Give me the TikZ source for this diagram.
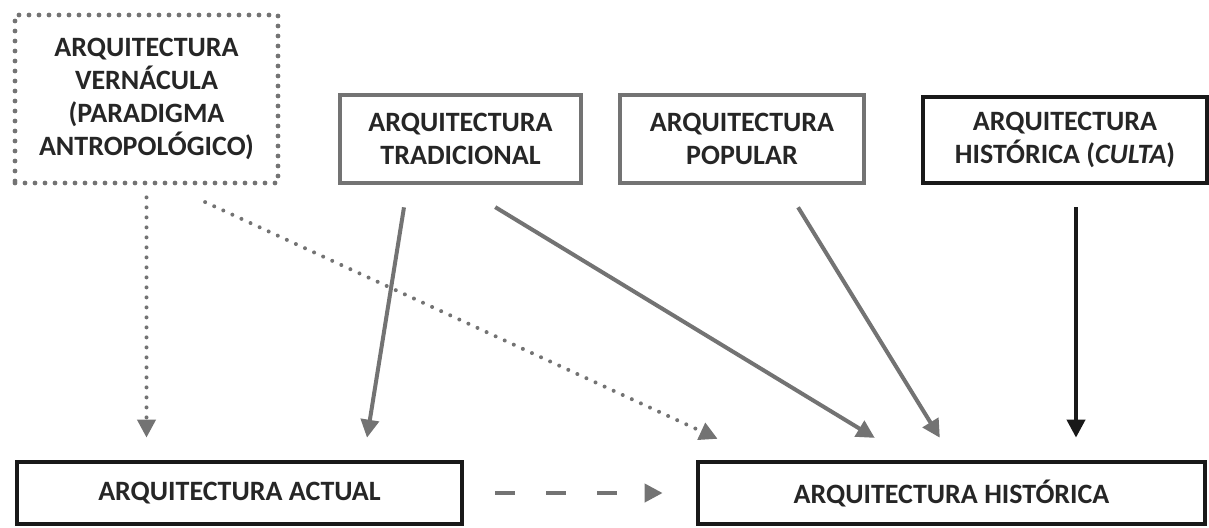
\documentclass[tikz,border=0pt]{standalone}
\usepackage{fontspec}
\setmainfont{Carlito}
\usetikzlibrary{arrows.meta}
\begin{document}
\begin{tikzpicture}[x=0.5pt,y=-0.5pt,
        box/.style={draw,rectangle,line width=2.4pt,align=center,text=black!85,
            font=\fontsize{14}{16.5}\selectfont\bfseries,inner sep=0pt},
        greybox/.style={box,draw=black!55},
        darkbox/.style={box,draw=black!90},
        dotbox/.style={box,draw=black!55,dash pattern=on 0pt off 5pt,line cap=round},
        link/.style={line width=2pt,draw=black!55,-{Triangle[length=9pt,width=9pt]}}]
    \useasboundingbox (0,0) rectangle (1209,527);
    \node[dotbox,minimum width=131.5pt,minimum height=84pt] (vern) at (146.5,99)
        {ARQUITECTURA\\VERNÁCULA\\(PARADIGMA\\ANTROPOLÓGICO)};
    \node[greybox,minimum width=120.5pt,minimum height=44pt] (trad) at (460.5,139)
        {ARQUITECTURA\\TRADICIONAL};
    \node[greybox,minimum width=122pt,minimum height=44pt] (pop) at (742,139)
        {ARQUITECTURA\\POPULAR};
    \node[darkbox,minimum width=142pt,minimum height=43pt] (culta) at (1065,140)
        {ARQUITECTURA\\HISTÓRICA (\textit{CULTA})};
    \node[darkbox,minimum width=222.5pt,minimum height=31pt] (actual) at (239.5,493)
        {ARQUITECTURA ACTUAL};
    \node[darkbox,minimum width=253.5pt,minimum height=31pt] (hist) at (951.5,493)
        {ARQUITECTURA HISTÓRICA};
    % dotted links
    \draw[link,dash pattern=on 0pt off 5pt,line cap=round,shorten <=6pt,shorten >=11pt]
        (vern.south) -- (vern.south |- actual.north);
    \draw[link,dash pattern=on 0pt off 5pt,line cap=round,shorten <=19.9pt,shorten >=24.8pt]
        ([xshift=11.25pt]vern.south) -- ([xshift=33.5pt]hist.north west);
    % solid links
    \foreach \a/\sa/\b/\sb/\s in {trad/-26.5pt/actual/62pt/11.1pt,
            trad/-0.5pt/hist/-20.5pt/20.9pt,
            pop/21.3pt/hist/0.9pt/12.85pt}
        \draw[link,shorten <=\s,shorten >=\s] ([xshift=\sa]\a.south) -- ([xshift=\sb]\b.north);
    \draw[link,draw=black!90,shorten <=11pt,shorten >=11pt]
        ([xshift=5.5pt]culta.south) -- ([xshift=5.5pt]culta.south |- hist.north);
    % dashed link
    \draw[link,dash pattern=on 10pt off 15.5pt,shorten <=15.5pt,shorten >=16.5pt]
        (actual.east) -- (hist.west);
\end{tikzpicture}
\end{document}
